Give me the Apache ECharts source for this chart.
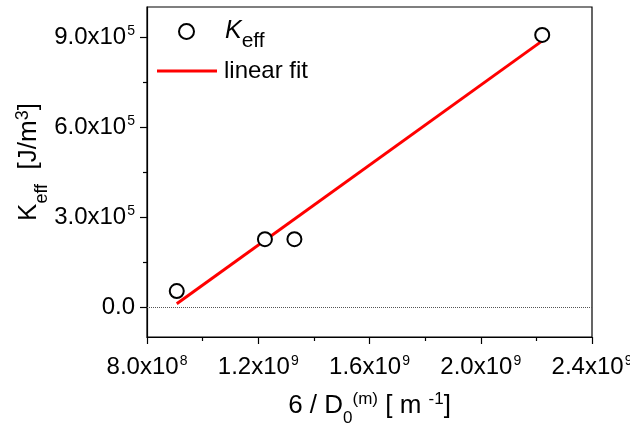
<!DOCTYPE html>
<html><head><meta charset="utf-8">
<script src="https://cdn.jsdelivr.net/npm/echarts@6/dist/echarts.min.js"></script>
<style>html,body{margin:0;padding:0;background:#fff}#c{width:630px;height:423px}</style>
</head><body><div id="c"></div>
<script>
// data
const keffX = [9.07e8, 1.224e9, 1.33e9, 2.221e9];
const keffY = [5.3e4, 2.26e5, 2.26e5, 9.07e5];
const fitX = [9.07e8, 2.221e9];
const fitY = [1.1e4, 8.87e5];
const xTicks = [8e8, 1.2e9, 1.6e9, 2.0e9, 2.4e9];
const yTicks = [0, 3e5, 6e5, 9e5];
const yMinorTicks = [1.5e5, 4.5e5, 7.5e5];

const FONT = '"Liberation Sans", Arial, sans-serif';
function sci(v) {
  if (v === 0) return '{b|0.0}';
  const e = Math.floor(Math.log10(Math.abs(v)) + 1e-9);
  const m = (v / Math.pow(10, e)).toFixed(1);
  return '{b|' + m + 'x10}{s|' + e + '}';
}
const tickRich = {
  b: {fontSize: 24, fontFamily: FONT, color: '#000', lineHeight: 28},
  s: {fontSize: 14, fontFamily: FONT, color: '#000', lineHeight: 14, verticalAlign: 'top', padding: [1, 0, 0, 1]}
};

const chart = echarts.init(document.getElementById('c'), null, {renderer: 'canvas'});
chart.setOption({
  animation: false,
  backgroundColor: '#fff',
  grid: {left: 147, right: 38, top: 7, bottom: 86, outerBoundsMode: 'none', containLabel: false,
         show: true, borderColor: '#000', borderWidth: 1.2, backgroundColor: 'transparent'},
  legend: [
    {
      data: ['K_eff'], left: 173, top: 14, orient: 'vertical',
      itemWidth: 15, itemHeight: 15, itemGap: 0,
      itemStyle: {color: '#fff', borderColor: '#000', borderWidth: 2, opacity: 1},
      formatter: () => '{k|K}{s|eff}',
      textStyle: {
        padding: [0, 0, 0, 26],
        rich: {
          k: {fontSize: 25, fontStyle: 'italic', fontFamily: FONT, color: '#000', lineHeight: 24},
          s: {fontSize: 21, fontFamily: FONT, color: '#000', lineHeight: 21, verticalAlign: 'bottom', padding: [0,0,-8,0]}
        }
      }
    },
    {
      data: [{name: 'linear fit', icon: 'rect'}], left: 152, top: 53, orient: 'vertical',
      itemWidth: 60, itemHeight: 3, itemGap: 0,
      itemStyle: {color: '#ff0000'},
      textStyle: {fontSize: 24, fontFamily: FONT, color: '#000', lineHeight: 26, padding: [0, 0, 0, 2]}
    }
  ],
  xAxis: {
    type: 'value', min: 8e8, max: 2.4e9, interval: 4e8,
    name: '{a|6 / D}{sub|0}{sup|(m)}{a| [ m }{sup|-1}{a|]}',
    nameLocation: 'middle', nameGap: 54, nameMoveOverlap: false,
    nameTextStyle: {
      rich: {
        a: {fontSize: 26, fontFamily: FONT, color: '#000', lineHeight: 30},
        sub: {fontSize: 17, fontFamily: FONT, color: '#000', lineHeight: 17, verticalAlign: 'bottom', padding: [0,0,-6,0]},
        sup: {fontSize: 17, fontFamily: FONT, color: '#000', lineHeight: 17, verticalAlign: 'top'}
      }
    },
    axisLine: {show: true, onZero: false, lineStyle: {color: '#000', width: 1.2}},
    axisTick: {show: true, inside: false, length: 7, lineStyle: {color: '#000', width: 1.2}},
    minorTick: {show: true, splitNumber: 2, length: 4, lineStyle: {color: '#000', width: 1.2}},
    splitLine: {show: false},
    axisLabel: {margin: 16, formatter: sci, rich: tickRich, showMaxLabel: true, showMinLabel: true, hideOverlap: false}
  },
  yAxis: [
    {
      type: 'value', min: -1e5, max: 1e6,
      name: '{a|K}{sub|eff}{a|  [J/m}{sup|3}{a|]}',
      nameLocation: 'middle', nameGap: 103, nameRotate: 90, nameMoveOverlap: false,
      nameTextStyle: {
        padding: [0, 0, 0, 20],
        rich: {
          a: {fontSize: 26, fontFamily: FONT, color: '#000', lineHeight: 30},
          sub: {fontSize: 18, fontFamily: FONT, color: '#000', lineHeight: 18, verticalAlign: 'bottom', padding: [0,0,-7,0]},
          sup: {fontSize: 18, fontFamily: FONT, color: '#000', lineHeight: 18, verticalAlign: 'top'}
        }
      },
      axisLine: {show: true, onZero: false, lineStyle: {color: '#000', width: 1.2}},
      axisTick: {show: true, inside: false, length: 7, customValues: yTicks, lineStyle: {color: '#000', width: 1.2}},
      splitLine: {show: false},
      axisLabel: {margin: 12, customValues: yTicks, formatter: sci, rich: tickRich}
    },
    {
      type: 'value', min: -1e5, max: 1e6, position: 'left',
      axisLine: {show: false},
      axisTick: {show: true, inside: false, length: 4, customValues: yMinorTicks, lineStyle: {color: '#000', width: 1.2}},
      axisLabel: {show: false},
      splitLine: {show: false}
    }
  ],
  series: [
    {
      name: 'linear fit', type: 'line', data: fitX.map((x, i) => [x, fitY[i]]),
      showSymbol: false, symbol: 'none', lineStyle: {color: '#ff0000', width: 3}, itemStyle: {color: '#ff0000'},
      z: 2,
      markLine: {
        silent: true, symbol: ['none', 'none'], label: {show: false},
        lineStyle: {type: 'dotted', color: '#555', width: 1},
        data: [{yAxis: 0}]
      }
    },
    {
      name: 'K_eff', type: 'scatter', data: keffX.map((x, i) => [x, keffY[i]]),
      symbol: 'circle', symbolSize: 14,
      itemStyle: {color: '#fff', borderColor: '#000', borderWidth: 2, opacity: 1},
      z: 3
    }
  ]
});
</script></body></html>
